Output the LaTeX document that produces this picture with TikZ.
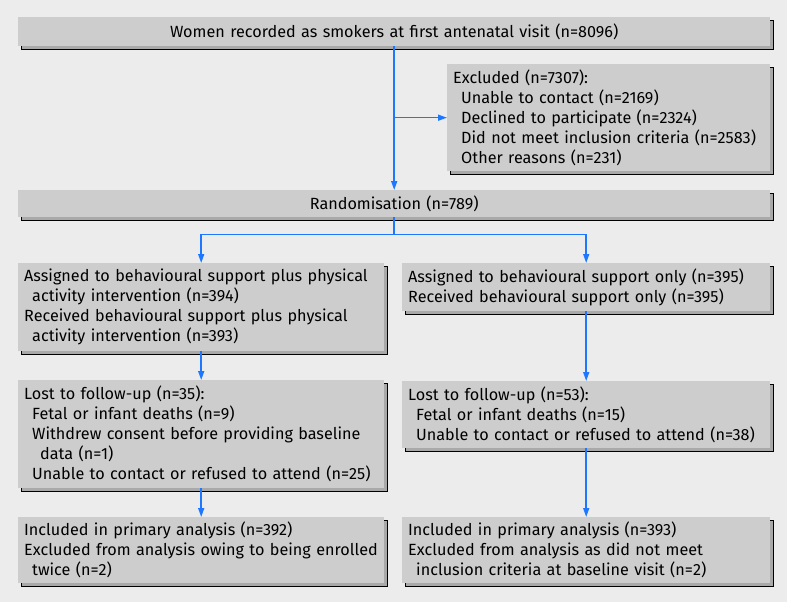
\documentclass[tikz,border=0pt]{standalone}
\usepackage{fontspec}
\setmainfont{Fira Sans}
\usepackage{tikz}
\usetikzlibrary{arrows.meta, positioning, shadows, calc}
\usepackage{xcolor}
\definecolor{pagegrey}{HTML}{ECECEC}
\definecolor{boxgrey}{HTML}{CDCDCD}
\definecolor{boxshade}{HTML}{A9A9A9}
\definecolor{flowblue}{HTML}{1E78FF}
\newcommand{\ind}{\hspace*{8pt}}

\begin{document}
\begin{tikzpicture}[x=1pt, y=-1pt,
  flowbox/.style={rectangle, fill=boxgrey, align=left, anchor=north west, inner xsep=6pt, inner ysep=4pt, font=\fontsize{16.2}{20}\selectfont, copy shadow={shadow xshift=3pt, shadow yshift=-3pt, fill=boxshade}},
  arrow/.style={-{Triangle[length=9pt,width=6pt]}, line width=1.5pt, draw=flowblue},
  link/.style={line width=1.5pt, draw=flowblue}
]
\fill[pagegrey] (0,0) rectangle (787,602);
\useasboundingbox (0,0) rectangle (787,602);

\node[flowbox, align=center, text width=740pt, minimum height=29pt] (smokers) at (18,17) {Women recorded as smokers at first antenatal visit (n=8096)};
\node[flowbox, text width=311pt, minimum height=107pt] (excluded) at (447,64) {Excluded (n=7307):\\\ind Unable to contact (n=2169)\\\ind Declined to participate (n=2324)\\\ind Did not meet inclusion criteria (n=2583)\\\ind Other reasons (n=231)};
\node[flowbox, align=center, text width=740pt, minimum height=27pt] (random) at (18,190) {Randomisation (n=789)};

\node[flowbox, text width=354pt, minimum height=88pt] (assignpa) at (18,263) {Assigned to behavioural support plus physical\\\ind activity intervention (n=394)\\Received behavioural support plus physical\\\ind activity intervention (n=393)};
\node[flowbox, text width=356pt, minimum height=48pt] (assignbs) at (402,263) {Assigned to behavioural support only (n=395)\\Received behavioural support only (n=395)};

\node[flowbox, text width=354pt, minimum height=108pt] (lostpa) at (18,380) {Lost to follow-up (n=35):\\\ind Fetal or infant deaths (n=9)\\\ind Withdrew consent before providing baseline\\\ind\ind data (n=1)\\\ind Unable to contact or refused to attend (n=25)};
\node[flowbox, text width=356pt, minimum height=67pt] (lostbs) at (402,381) {Lost to follow-up (n=53):\\\ind Fetal or infant deaths (n=15)\\\ind Unable to contact or refused to attend (n=38)};

\node[flowbox, text width=354pt, minimum height=66pt] (analpa) at (18,517) {Included in primary analysis (n=392)\\Excluded from analysis owing to being enrolled\\\ind twice (n=2)};
\node[flowbox, text width=356pt, minimum height=66pt] (analbs) at (402,517) {Included in primary analysis (n=393)\\Excluded from analysis as did not meet\\\ind inclusion criteria at baseline visit (n=2)};

% enrolment
\draw[arrow] (smokers.south) -- (random.north);
\draw[arrow] (smokers.south |- excluded.west) -- (excluded.west);

% allocation
\coordinate (split) at ($(random.south)+(0,17)$);
\draw[link] (random.south) -- (split);
\draw[arrow] (split) -| (assignpa.north);
\draw[arrow] (split) -| (assignbs.north);

% follow-up and analysis
\draw[arrow] (assignpa.south) -- (lostpa.north);
\draw[arrow] (assignbs.south) -- (lostbs.north);
\draw[arrow] (lostpa.south) -- (analpa.north);
\draw[arrow] (lostbs.south) -- (analbs.north);
\end{tikzpicture}
\end{document}
